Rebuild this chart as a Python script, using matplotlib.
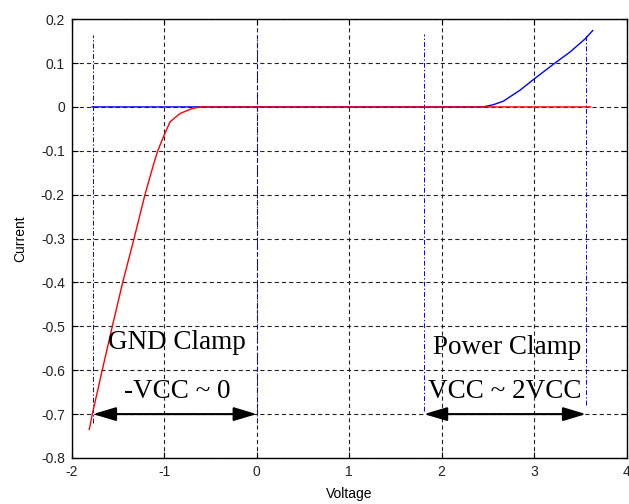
import matplotlib
matplotlib.use("Agg")
import matplotlib.pyplot as plt

# Data
red_x = [-1.81, -1.777, -1.67, -1.561, -1.449, -1.326, -1.208, -1.118, -1.07, -1.0,
         -0.937, -0.829, -0.703, -0.613, 3.61]
red_y = [-0.735, -0.7, -0.6, -0.5, -0.4, -0.3, -0.2, -0.133, -0.1, -0.064,
         -0.034, -0.015, -0.004, 0.0, 0.0]
blue_x = [-1.78, 2.45, 2.558, 2.666, 2.846, 3.02, 3.225, 3.387, 3.55, 3.633]
blue_y = [0.0, 0.0, 0.005, 0.013, 0.038, 0.067, 0.1, 0.125, 0.155, 0.174]

vline_x = [-1.77, 0.0, 1.81, 3.56]
vline_top = [0.165, 0.165, 0.167, 0.167]
vline_bottom = [-0.72, -0.72, -0.693, -0.68]

arrow_ranges = [(-1.77, 0.0), (1.81, 3.56)]
arrow_y = -0.7
labels = ["GND Clamp", "-VCC ~ 0", "Power Clamp", "VCC ~ 2VCC"]
label_x = [-0.867, -0.856, 2.711, 2.684]
label_y = [-0.537, -0.648, -0.548, -0.648]

xticks = [-2, -1, 0, 1, 2, 3, 4]
xticklabels = ["-2", "-1", "0", "1", "2", "3", "4"]
yticks = [0.2, 0.1, 0, -0.1, -0.2, -0.3, -0.4, -0.5, -0.6, -0.7, -0.8]
yticklabels = ["0.2", "0.1", "0", "-0.1", "-0.2", "-0.3", "-0.4", "-0.5", "-0.6", "-0.7", "-0.8"]

plt.rcParams['font.family'] = ['Liberation Sans', 'DejaVu Sans']
plt.rcParams['lines.scale_dashes'] = False

fig = plt.figure(figsize=(6.29, 5.04), dpi=100)
ax = fig.add_axes([0.114, 0.0913, 0.8823, 0.8707])

ax.set_xlim(-2, 4)
ax.set_ylim(-0.8, 0.2)
ax.set_xticks(xticks)
ax.set_xticklabels(xticklabels)
ax.set_yticks(yticks)
ax.set_yticklabels(yticklabels)
ax.tick_params(direction='in', top=True, right=True, length=4, width=0.8,
               labelsize=10, pad=5, labelcolor='#222222')
for s in ax.spines.values():
    s.set_linewidth(1.0)

ax.grid(True, color='#222222', linestyle=(0, (3, 2.2)), linewidth=0.8)
ax.set_axisbelow(True)

for x, t, b in zip(vline_x, vline_top, vline_bottom):
    ax.plot([x, x], [b, t], color='blue', linewidth=0.7,
            linestyle=(0, (3.5, 1.5, 1, 1.5)), zorder=2)

ax.plot(blue_x, blue_y, color='blue', linewidth=1.0, zorder=3)
ax.plot(red_x, red_y, color='red', linewidth=1.0, zorder=4)

for (x0, x1) in arrow_ranges:
    ax.annotate('', xy=(x1, arrow_y), xytext=(x0, arrow_y),
                arrowprops=dict(arrowstyle='<|-|>,head_length=1.0,head_width=0.3',
                                color='black', lw=1.5, mutation_scale=14,
                                shrinkA=0, shrinkB=0), zorder=5)

for t, x, y in zip(labels, label_x, label_y):
    ax.text(x, y, t, ha='center', va='center', fontsize=19.5,
            family=['Liberation Serif', 'DejaVu Serif'], zorder=6)

ax.set_xlabel("Voltage", fontsize=10, labelpad=6)
ax.set_ylabel("Current", fontsize=10, labelpad=10)

fig.savefig("out.png", dpi=100)
